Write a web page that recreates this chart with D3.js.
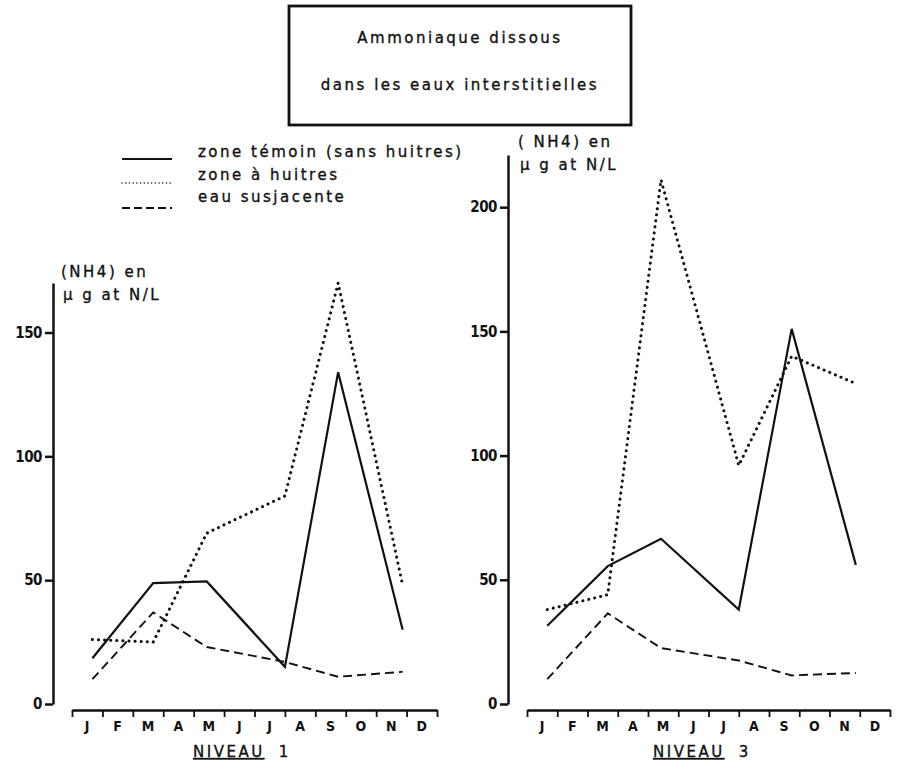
<!DOCTYPE html>
<meta charset='utf-8'>
<style>
  body { margin:0; background:#fff; }
  svg text { font-family:'DejaVu Sans',sans-serif; fill:#111; }
  .axis path, .axis line { stroke:#111; stroke-width:2.5px; }
  .axis text { font-family:'DejaVu Sans Condensed','DejaVu Sans',sans-serif; font-weight:bold; font-size:15px; letter-spacing:-0.5px; fill:#111; }
  .lbl { font-size:15px; letter-spacing:2.5px; stroke:#111; stroke-width:0.35px; }
  .month { font-family:'DejaVu Sans Condensed','DejaVu Sans',sans-serif; font-weight:bold; font-size:14px; letter-spacing:0; }
  .temoin { fill:none; stroke:#111; stroke-width:2.2px; }
  .huitres { fill:none; stroke:#111; stroke-width:3px; stroke-dasharray:0.1 6; stroke-linecap:round; }
  .susjacente { fill:none; stroke:#111; stroke-width:1.9px; stroke-dasharray:9 5; }
</style>
<body>
<script src='https://d3js.org/d3.v7.min.js'></script>
<script>
  // months of the year, sampling dates as month position (0 = start of January)
  var months = ['J','F','M','A','M','J','J','A','S','O','N','D'];
  var sampleMonths = [0.67, 2.67, 4.43, 7.0, 8.75, 10.87];

  // niveau 1
  var temoin1 = [18.5, 48.8, 49.5, 15, 134, 30];
  var huitres1 = [26, 25, 69, 84, 170, 48];
  var susjacente1 = [10, 37, 23, 17, 11, 13];

  // niveau 3
  var temoin3 = [31.5, 55.5, 66.5, 38, 151, 56];
  var huitres3 = [38, 44, 211, 96, 140, 129];
  var susjacente3 = [10, 36.5, 22.5, 17.5, 11.5, 12.5];

  var ticks1 = [0, 50, 100, 150];
  var ticks3 = [0, 50, 100, 150, 200];

  var legendLabels = ['zone témoin (sans huitres)', 'zone à huitres', 'eau susjacente'];
  var seriesClass = ['temoin', 'huitres', 'susjacente'];

  var width = 898, height = 772;
  var svg = d3.select('body').append('svg')
    .attr('width', width)
    .attr('height', height);

  // title box ----------------------------------------------------------------
  svg.append('rect')
    .attr('x', 289).attr('y', 6).attr('width', 342).attr('height', 119)
    .attr('fill', 'none').attr('stroke', '#111').attr('stroke-width', 2.8);
  svg.append('text').attr('class', 'lbl').attr('x', 460).attr('y', 43)
    .attr('text-anchor', 'middle').text('Ammoniaque dissous');
  svg.append('text').attr('class', 'lbl').attr('x', 460).attr('y', 90)
    .attr('text-anchor', 'middle').text('dans les eaux interstitielles');

  // legend -------------------------------------------------------------------
  var legY = [159, 183, 208];
  var textY = [157, 180, 202];
  legendLabels.forEach(function(d, i) {
    svg.append('path')
      .attr('class', seriesClass[i])
      .attr('d', d3.line()([[122, legY[i]], [172, legY[i]]]))
      .style('stroke-width', i == 1 ? 1.4 : null)
      .style('stroke-dasharray', i == 1 ? '0.1 3.6' : (i == 2 ? '8 4' : null));
    svg.append('text').attr('class', 'lbl')
      .attr('x', 198).attr('y', textY[i]).text(d);
  });

  function drawPanel(p) {
    var x = d3.scaleLinear().domain([0, 12]).range(p.xRange);
    var y = d3.scaleLinear().domain([0, p.yMax]).range([704, p.yTop]);

    var g = svg.append('g');

    g.append('g').attr('class', 'axis')
      .attr('transform', 'translate(' + p.yAxisX + ',0)')
      .call(d3.axisLeft(y).tickValues(p.ticks).tickSize(8).tickSizeOuter(0).tickPadding(3));

    var xa = g.append('g').attr('class', 'axis')
      .attr('transform', 'translate(0,710)')
      .call(d3.axisBottom(x).tickValues(d3.range(0, 13)).tickSize(7).tickSizeOuter(0).tickFormat(''));
    xa.selectAll('line').style('stroke-width', '1.8px');

    g.selectAll('.month')
      .data(months)
      .join('text')
      .attr('class', 'month')
      .attr('x', function(d, i) { return x(i + 0.5); })
      .attr('y', 731)
      .attr('text-anchor', 'middle')
      .text(function(d) { return d; });

    var line = d3.line()
      .x(function(d, i) { return x(sampleMonths[i]); })
      .y(function(d) { return y(d); });

    p.series.forEach(function(s, i) {
      g.append('path')
        .datum(s)
        .attr('class', seriesClass[i])
        .attr('d', line);
    });

    // axis title
    g.append('text').attr('class', 'lbl')
      .attr('x', p.titleX).attr('y', p.titleY).text(p.title1);
    g.append('text').attr('class', 'lbl')
      .attr('x', p.titleX + 2).attr('y', p.titleY + 23).text(p.title2);

    // niveau label
    var nv = g.append('text').attr('class', 'lbl')
      .attr('x', p.nivX).attr('y', 757);
    nv.append('tspan').attr('text-decoration', 'underline').text('NIVEAU');
    nv.append('tspan').attr('dx', 14).text(p.niveau);
  }

  drawPanel({
    xRange: [72, 437], yAxisX: 53, yMax: 170, yTop: 283, ticks: ticks1,
    series: [temoin1, huitres1, susjacente1],
    title1: '(NH4) en', title2: '\u00b5 g at N/L', titleX: 61, titleY: 277,
    niveau: '1', nivX: 193
  });

  drawPanel({
    xRange: [527, 890], yAxisX: 508, yMax: 221, yTop: 155, ticks: ticks3,
    series: [temoin3, huitres3, susjacente3],
    title1: '( NH4) en', title2: '\u00b5 g at N/L', titleX: 518, titleY: 147,
    niveau: '3', nivX: 653
  });
</script>
</body>
